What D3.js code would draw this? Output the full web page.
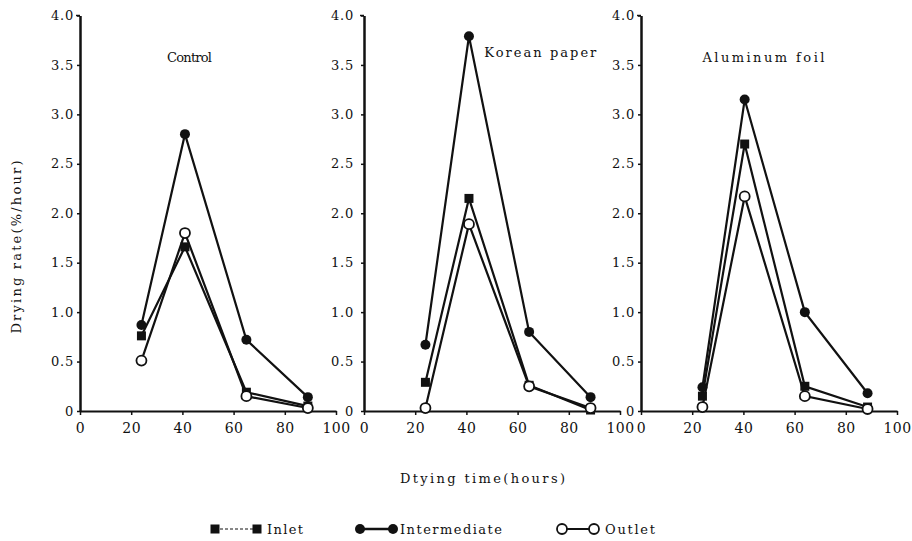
<!DOCTYPE html>
<html>
<head>
<meta charset="utf-8">
<script src="https://cdn.jsdelivr.net/npm/d3@7"></script>
<style>
  body { margin: 0; background: #fff; }
  svg text { font-family: "DejaVu Serif", "Liberation Serif", serif; fill: #111; }
</style>
</head>
<body>
<div id="chart"></div>
<script>
// panel names and sampling times (hours)
let panels = ["Control", "Korean paper", "Aluminum foil"];
let hours = [
    [24, 41, 65, 89],
    [24, 41, 64.5, 88.5],
    [24, 40.5, 64, 88.5]
];

// drying rate (%/hour) per panel
let inlet = [
    [0.76, 1.66, 0.19, 0.05],
    [0.29, 2.15, 0.26, 0.01],
    [0.15, 2.70, 0.25, 0.04]
];
let intermediate = [
    [0.87, 2.80, 0.72, 0.14],
    [0.67, 3.79, 0.80, 0.14],
    [0.24, 3.15, 1.00, 0.18]
];
let outlet = [
    [0.51, 1.80, 0.15, 0.03],
    [0.03, 1.89, 0.25, 0.03],
    [0.04, 2.17, 0.15, 0.02]
];

let xTicks = [0, 20, 40, 60, 80, 100];
let yTicks = [0, 0.5, 1.0, 1.5, 2.0, 2.5, 3.0, 3.5, 4.0];
let yTickLabels = ["0", "0.5", "1.0", "1.5", "2.0", "2.5", "3.0", "3.5", "4.0"];

let width = 912,
    height = 541;
let serif = "DejaVu Serif";

let svg = d3.select("#chart")
    .append("svg")
    .attr("width", width)
    .attr("height", height);

// panel placement
let panelLeft = [80, 364, 641];
let panelWidth = 256;
// where the panel name sits, in data units
let titleAt = [[34, 3.53], [47, 3.58], [24, 3.53]];

let y = d3.scaleLinear().domain([0, 4]).range([411, 15.5]);

let series = [
    { name: "Inlet", values: inlet, shape: "square" },
    { name: "Intermediate", values: intermediate, shape: "dot" },
    { name: "Outlet", values: outlet, shape: "open" }
];

function marker(g, shape, cx, cy) {
    if (shape === "square") {
        g.append("rect")
            .attr("x", cx - 4.5).attr("y", cy - 4.5)
            .attr("width", 9).attr("height", 9)
            .attr("fill", "#111");
    } else if (shape === "dot") {
        g.append("circle")
            .attr("cx", cx).attr("cy", cy).attr("r", 5)
            .attr("fill", "#111");
    } else {
        g.append("circle")
            .attr("cx", cx).attr("cy", cy).attr("r", 5)
            .attr("fill", "#fff").attr("stroke", "#111").attr("stroke-width", 1.8);
    }
}

panels.forEach((name, p) => {
    let x = d3.scaleLinear().domain([0, 100]).range([panelLeft[p], panelLeft[p] + panelWidth]);
    let g = svg.append("g");

    // x axis
    let xAxis = g.append("g")
        .attr("transform", `translate(0, ${y(0)})`)
        .call(d3.axisBottom(x).tickValues(xTicks).tickSize(4).tickSizeOuter(0).tickPadding(8))
        .attr("font-family", serif)
        .attr("font-size", 14);
    xAxis.select(".domain").attr("stroke", "#111").attr("stroke-width", 2);
    xAxis.selectAll(".tick line").attr("stroke", "#111").attr("stroke-width", 1.5);
    xAxis.selectAll(".tick text")
        .style("font-family", serif)
        .style("letter-spacing", "0.5px").attr("fill", "#111");

    // y axis
    let yAxis = g.append("g")
        .attr("transform", `translate(${x(0)}, 0)`)
        .call(d3.axisLeft(y).tickValues(yTicks).tickFormat((d, i) => yTickLabels[i])
            .tickSize(3).tickSizeOuter(0).tickPadding(p === 1 ? 7 : 3))
        .attr("font-family", serif)
        .attr("font-size", 13);
    yAxis.select(".domain").attr("stroke", "#111").attr("stroke-width", 2.5);
    yAxis.selectAll(".tick line").attr("stroke", "#111").attr("stroke-width", 1.5);
    yAxis.selectAll(".tick text")
        .style("font-family", serif)
        .style("letter-spacing", "0.8px").attr("fill", "#111");
    // small hook at the top of the axis
    g.append("line")
        .attr("x1", x(0) - 4).attr("x2", x(0))
        .attr("y1", y(4)).attr("y2", y(4))
        .attr("stroke", "#111").attr("stroke-width", 1.5);

    // panel name
    g.append("text")
        .attr("x", x(titleAt[p][0]))
        .attr("y", y(titleAt[p][1]))
        .attr("font-size", 13)
        .attr("textLength", [45, 112, 122][p])
        .attr("lengthAdjust", "spacing")
        .text(name);

    let line = d3.line()
        .x((d, i) => x(hours[p][i]))
        .y(d => y(d));

    series.forEach(s => {
        g.append("path")
            .datum(s.values[p])
            .attr("d", line)
            .attr("fill", "none")
            .attr("stroke", "#111")
            .attr("stroke-width", 2.2);
    });
    series.forEach(s => {
        s.values[p].forEach((v, i) => marker(g, s.shape, x(hours[p][i]), y(v)));
    });
});

// y axis label
svg.append("text")
    .attr("transform", `translate(21, 247) rotate(-90)`)
    .attr("text-anchor", "middle")
    .attr("font-size", 13)
    .attr("textLength", 173)
    .attr("lengthAdjust", "spacing")
    .text("Drying rate(%/hour)");

// x axis label
svg.append("text")
    .attr("x", 400)
    .attr("y", 483)
    .attr("font-size", 13)
    .attr("textLength", 165)
    .attr("lengthAdjust", "spacing")
    .text("Dtying time(hours)");

// legend
let legendY = 529;
let legendItems = [
    { s: series[0], x1: 215, x2: 257, tx: 267, len: 36, dash: "3,2", w: 1 },
    { s: series[1], x1: 360, x2: 393, tx: 400, len: 102, dash: null, w: 2.5 },
    { s: series[2], x1: 562, x2: 594, tx: 605, len: 50, dash: null, w: 2 }
];
let legend = svg.append("g");
legendItems.forEach(item => {
    legend.append("line")
        .attr("x1", item.x1).attr("x2", item.x2)
        .attr("y1", legendY).attr("y2", legendY)
        .attr("stroke", "#111").attr("stroke-width", item.w)
        .attr("stroke-dasharray", item.dash);
    marker(legend, item.s.shape, item.x1, legendY);
    marker(legend, item.s.shape, item.x2, legendY);
    legend.append("text")
        .attr("x", item.tx).attr("y", legendY + 5)
        .attr("font-size", 13)
        .attr("textLength", item.len)
        .attr("lengthAdjust", "spacing")
        .text(item.s.name);
});
</script>
</body>
</html>
